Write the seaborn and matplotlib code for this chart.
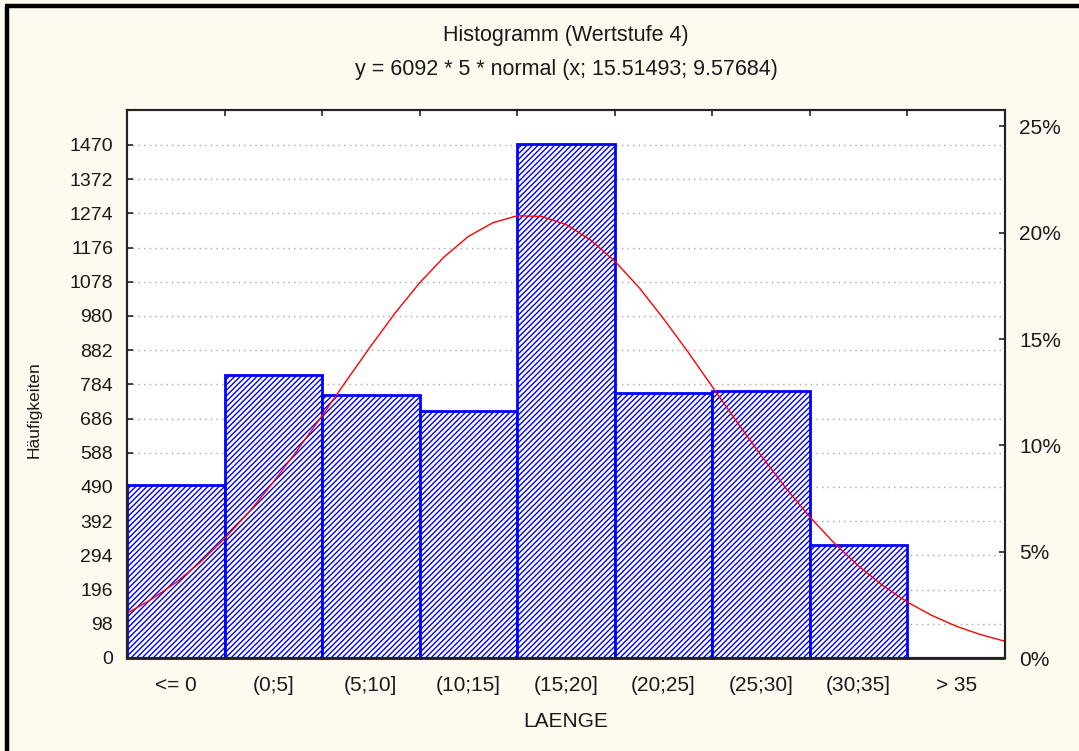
import matplotlib
matplotlib.use("Agg")
import matplotlib.pyplot as plt
from matplotlib.lines import Line2D
import seaborn as sns
import pandas as pd

# ---- data ----
categories = ["<= 0", "(0;5]", "(5;10]", "(10;15]", "(15;20]", "(20;25]", "(25;30]", "(30;35]", "> 35"]
counts = [496, 812, 754, 709, 1472, 760, 764, 325, 0]
total_n = 6092
yticks_left = [0, 98, 196, 294, 392, 490, 588, 686, 784, 882, 980, 1078, 1176, 1274, 1372, 1470]
yticks_right = [0, 5, 10, 15, 20, 25]  # percent
y_top = 1570

# fitted normal curve at LAENGE values
curve_x = [-5, -3.75, -2.5, -1.25, 0, 1.25, 2.5, 3.75, 5, 6.25, 7.5, 8.75, 10, 11.25,
           12.5, 13.75, 15, 16.25, 17.5, 18.75, 20, 21.25, 22.5, 23.75, 25, 26.25,
           27.5, 28.75, 30, 31.25, 32.5, 33.75, 35, 36.25, 37.5, 38.75, 40]
curve_y = [128, 168, 216, 274, 342, 418, 504, 597, 694, 795, 894, 989, 1075, 1149,
           1208, 1247, 1267, 1265, 1242, 1198, 1137, 1061, 972, 877, 777, 677,
           580, 488, 404, 329, 263, 207, 160, 122, 91, 67, 48]
bin_width = 5

title_lines = ["Histogramm (Wertstufe 4)", "y = 6092 * 5 * normal (x; 15.51493; 9.57684)"]

# ---- style ----
sns.set_style("white")
plt.rcParams["font.family"] = ["Liberation Sans", "DejaVu Sans"]
plt.rcParams["hatch.linewidth"] = 1.0
txt = "#1a1a1a"
bg = "#FFFAF0"
blue = "#0000FF"

fig = plt.figure(figsize=(10.79, 7.51), dpi=100, facecolor=bg)
ax = fig.add_axes([127 / 1079, 1 - 658 / 751, (1005 - 127) / 1079, (658 - 110) / 751])
ax.set_facecolor("white")

df = pd.DataFrame({"cat": categories, "n": counts})
sns.barplot(data=df, x="cat", y="n", order=categories, width=1.0, ax=ax,
            color="white", saturation=1)
for p in ax.patches:
    p.set_facecolor("white")
    p.set_edgecolor(blue)
    p.set_linewidth(2.0)
    p.set_hatch("//////")
    p.set_zorder(3)
    p.set_clip_on(False)

pos = [v / bin_width + 0.5 for v in curve_x]
sns.lineplot(x=pos, y=curve_y, ax=ax, color="red", linewidth=1.0, sort=False,
             estimator=None, zorder=4)

ax.set_xlim(-0.5, len(categories) - 0.5)
ax.set_ylim(0, y_top)
ax.set_yticks(yticks_left)
ax.set_yticklabels([str(t) for t in yticks_left])
ax.yaxis.grid(True, linestyle=(0, (1, 3)), color="#a8a8a8", linewidth=1.0)
ax.set_axisbelow(True)

# x: labels at centres, tick marks at bin edges
ax.set_xticks([i for i in range(len(categories))], minor=True)
ax.set_xticklabels(categories, minor=True)
ax.set_xticks([i + 0.5 for i in range(len(categories) - 1)])
ax.set_xticklabels([])
ax.tick_params(axis="x", which="minor", length=0, pad=13, labelsize=15, labelcolor=txt)
ax.tick_params(axis="x", which="major", direction="in", length=4, width=1.2,
               top=True, bottom=True, color="#222222")
ax.tick_params(axis="y", direction="in", length=4, width=1.2, pad=10,
               labelsize=14, labelcolor=txt, color="#222222")

for s in ax.spines.values():
    s.set_color("#222222")
    s.set_linewidth(1.5)

ax.set_xlabel("LAENGE", fontsize=15, color=txt, labelpad=12)
ax.set_ylabel("Häufigkeiten", fontsize=12.5, color=txt)
ax.yaxis.set_label_coords((42 - 127) / 878, (658 - 410) / 548)

ax2 = ax.twinx()
ax2.set_ylim(0, y_top / total_n)
ax2.set_yticks([t / 100 for t in yticks_right])
ax2.set_yticklabels([f"{t}%" for t in yticks_right])
ax2.tick_params(axis="y", direction="in", length=4, width=1.2, pad=10,
                labelsize=15, labelcolor=txt, color="#222222")
ax2.grid(False)
for s in ax2.spines.values():
    s.set_color("#222222")
    s.set_linewidth(1.5)

fig.text(566 / 1079, 1 - 35 / 751, title_lines[0], ha="center", va="center", fontsize=15.5, color=txt)
fig.text(566 / 1079, 1 - 70 / 751, title_lines[1], ha="center", va="center", fontsize=15.5, color=txt)

# window frame (left and top edges)
fig.add_artist(Line2D([7 / 1079, 7 / 1079], [0, 1 - 5.5 / 751], transform=fig.transFigure,
                      color="black", linewidth=3.2, solid_capstyle="butt"))
fig.add_artist(Line2D([5 / 1079, 1], [1 - 5.5 / 751, 1 - 5.5 / 751], transform=fig.transFigure,
                      color="black", linewidth=3.2, solid_capstyle="butt"))

fig.savefig("out.png", dpi=100, facecolor=bg)
